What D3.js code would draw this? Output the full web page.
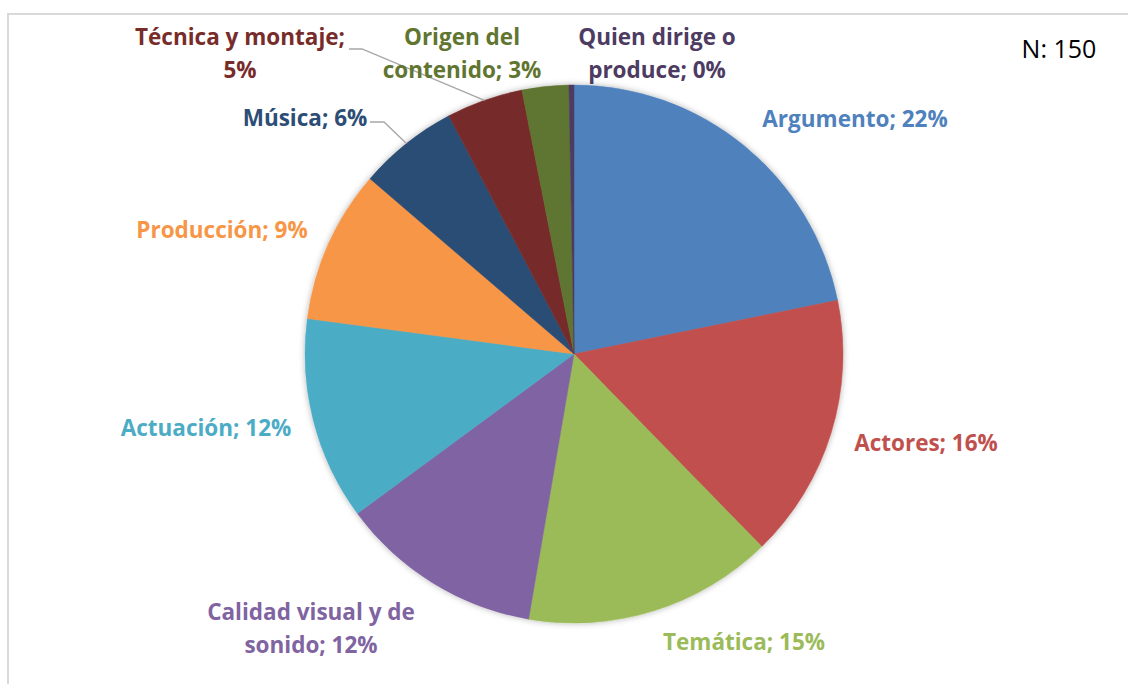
<!DOCTYPE html>
<html><head><meta charset="utf-8">
<script src="https://cdn.jsdelivr.net/npm/d3@7"></script>
<style>html,body{margin:0;padding:0;background:#fff;}</style>
</head><body>
<script>
const categories = ["Argumento","Actores","Temática","Calidad visual y de sonido","Actuación","Producción","Música","Técnica y montaje","Origen del contenido","Quien dirige o produce"];
const values = [21.8, 15.9, 15.0, 12.2, 12.2, 9.2, 6.0, 4.6, 2.8, 0.3];
const percentLabels = ["22%","16%","15%","12%","12%","9%","6%","5%","3%","0%"];
const colors = ["#4f81bd","#c0504d","#9bbb59","#8064a2","#4bacc6","#f79646","#2c4d75","#772c2a","#5f7530","#4d3b62"];
// label text lines (layout only)
const labelLines = [
  ["Argumento; 22%"],["Actores; 16%"],["Temática; 15%"],["Calidad visual y de","sonido; 12%"],
  ["Actuación; 12%"],["Producción; 9%"],["Música; 6%"],["Técnica y montaje;","5%"],
  ["Origen del","contenido; 3%"],["Quien dirige o","produce; 0%"]];
const labelPos = [[855,118],[926,442],[744,641],[311,611],[206,427],[222,229],[305,117],[240,36],[462,36],[657,36]];
const leader = [null,null,null,null,null,null,{x0:370,y0:122,x1:384},{x0:349,y0:49,x1:362},null,null];

const W=1128,H=684, cx=574, cy=354, R=269;
const svg=d3.select("body").append("svg").attr("width",W).attr("height",H);
svg.append("rect").attr("x",8).attr("y",14).attr("width",W).attr("height",H).attr("fill","#fff").attr("stroke","#d9d9d9").attr("stroke-width",2);
const defs=svg.append("defs");
const f=defs.append("filter").attr("id","sh").attr("x","-10%").attr("y","-10%").attr("width","120%").attr("height","120%");
f.append("feDropShadow").attr("dx",0).attr("dy",0).attr("stdDeviation",3).attr("flood-color","#000").attr("flood-opacity",0.3);

const data = categories.map((c,i)=>({c, v:values[i], i}));
const pie=d3.pie().sort(null).value(d=>d.v);
const arcs=pie(data);
const arc=d3.arc().innerRadius(0).outerRadius(R);
const g=svg.append("g").attr("transform",`translate(${cx},${cy})`);
const pg=g.append("g").attr("filter","url(#sh)");
pg.selectAll("path").data(arcs).join("path").attr("d",arc).attr("fill",d=>colors[d.data.i]).attr("stroke",d=>colors[d.data.i]).attr("stroke-width",0.5);

// leader lines
arcs.forEach((a,i)=>{
  const L=leader[i]; if(!L) return;
  const m=(a.startAngle+a.endAngle)/2;
  const ex=cx+Math.sin(m)*R, ey=cy-Math.cos(m)*R;
  svg.append("polyline").attr("points",`${L.x0},${L.y0} ${L.x1},${L.y0} ${ex},${ey}`).attr("fill","none").attr("stroke","#a6a6a6").attr("stroke-width",1.3);
});

const fontFam="'Open Sans', Lato, sans-serif";
labelLines.forEach((lines,i)=>{
  const t=svg.append("text").attr("x",labelPos[i][0]).attr("y",labelPos[i][1]).attr("text-anchor","middle").attr("dominant-baseline","central")
   .attr("fill",colors[i]).attr("font-family",fontFam).attr("font-weight","bold").attr("font-size",22.5);
  lines.forEach((ln,j)=>t.append("tspan").attr("x",labelPos[i][0]).attr("dy",j===0?0:33).text(ln));
});
svg.append("text").attr("x",1059).attr("y",48).attr("text-anchor","middle").attr("dominant-baseline","central")
  .attr("font-family","'Open Sans', sans-serif").attr("font-size",25).attr("fill","#000").text("N: 150");
</script>
</body></html>
